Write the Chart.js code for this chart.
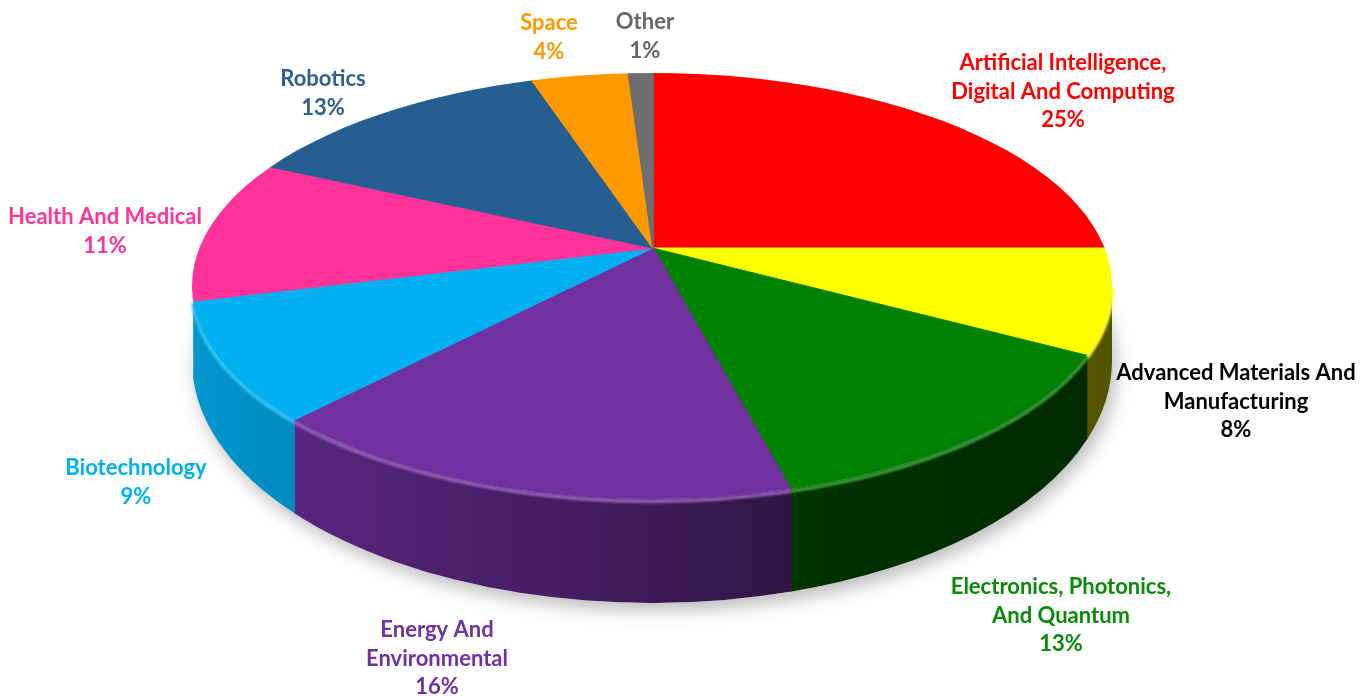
<!DOCTYPE html>
<html>
<head>
<meta charset="utf-8">
<script src="https://cdn.jsdelivr.net/npm/chart.js@4.4.1/dist/chart.umd.min.js"></script>
<style>
  html, body { margin: 0; padding: 0; background: #ffffff; }
  #wrap { width: 1371px; height: 696px; }
</style>
</head>
<body>
<div id="wrap"><canvas id="c" width="1371" height="696"></canvas></div>
<script>
// Category names (one entry per line of the label), shares in percent and colours
const categories = [
  ["Artificial Intelligence,", "Digital And Computing"],
  ["Advanced Materials And", "Manufacturing"],
  ["Electronics, Photonics,", "And Quantum"],
  ["Energy And", "Environmental"],
  ["Biotechnology"],
  ["Health And Medical"],
  ["Robotics"],
  ["Space"],
  ["Other"]
];
const shares = [25, 8, 13, 16, 9, 11, 13, 4, 1];
const sliceColors = ["#FF0000", "#FFFF00", "#008000", "#7030A0", "#00B0F0", "#FF3399", "#255E91", "#FF9900", "#6E6E6E"];
const labelColors = ["#FF0000", "#000000", "#0A8A0A", "#7030A0", "#00B0F0", "#FF3399", "#2F5F8F", "#FF9900", "#666666"];

// Label placement (centre x, first-line y) on the canvas
const labelAnchors = [[1063, 63], [1236, 373], [1061, 587], [437, 630], [136, 468], [105, 217], [323, 79], [549, 23], [645, 22]];
const labelFont = "bold 22px Lato";
const labelLineHeight = 28.5;

// Tilted disc geometry: apex of the slices, top rim ellipse, bottom rim ellipse
const disc = { px: 653, py: 248, cx: 652, cy: 286, rx: 460, ry: 213, cyB: 361, ryB: 242, tilt: 0.45, reach: 620 };

function toRgb(hex) {
  const n = parseInt(hex.slice(1), 16);
  return [(n >> 16) & 255, (n >> 8) & 255, n & 255];
}
function shade(hex, f) {
  const [r, g, b] = toRgb(hex);
  return `rgb(${Math.round(r * f)},${Math.round(g * f)},${Math.round(b * f)})`;
}
function lighten(hex, f) {
  const [r, g, b] = toRgb(hex);
  return `rgb(${Math.round(r + (255 - r) * f)},${Math.round(g + (255 - g) * f)},${Math.round(b + (255 - b) * f)})`;
}

// Where a slice edge (pie angle) meets the top rim, as an ellipse parameter
function rimAngle(theta) {
  const dx = Math.cos(theta), dy = disc.tilt * Math.sin(theta);
  const ox = (disc.px - disc.cx) / disc.rx, oy = (disc.py - disc.cy) / disc.ry;
  const ux = dx / disc.rx, uy = dy / disc.ry;
  const a = ux * ux + uy * uy, b = 2 * (ox * ux + oy * uy), c = ox * ox + oy * oy - 1;
  const t = (-b + Math.sqrt(b * b - 4 * a * c)) / (2 * a);
  return Math.atan2(oy + t * uy, ox + t * ux);
}

const wallStops = [[0, 0.86], [0.12, 0.78], [0.45, 0.58], [0.62, 0.45], [0.7, 0.38], [1, 0.33]];

function drawWall(ctx, s, e, color) {
  const d = disc;
  ctx.beginPath();
  ctx.ellipse(d.cx, d.cy, d.rx, d.ry, 0, s, e, false);
  ctx.lineTo(d.cx + d.rx * Math.cos(e), d.cyB + d.ryB * Math.sin(e));
  ctx.ellipse(d.cx, d.cyB, d.rx, d.ryB, 0, e, s, true);
  ctx.closePath();
  const g = ctx.createLinearGradient(d.cx - d.rx, 0, d.cx + d.rx, 0);
  wallStops.forEach(([p, f]) => g.addColorStop(p, shade(color, f)));
  ctx.fillStyle = g;
  ctx.fill();
}

function drawRim(ctx, s, e, color) {
  const d = disc;
  ctx.save();
  ctx.filter = "blur(1px)";
  ctx.beginPath();
  ctx.ellipse(d.cx, d.cy + 2, d.rx, d.ry, 0, s, e, false);
  ctx.strokeStyle = lighten(color, 0.22);
  ctx.lineWidth = 4;
  ctx.stroke();
  ctx.restore();
}

// visible (front) parts of a rim span, skipping hairline slivers
function frontParts(a0, a1) {
  const parts = [];
  for (const off of [-2 * Math.PI, 0, 2 * Math.PI]) {
    const s = Math.max(a0, off), e = Math.min(a1, off + Math.PI);
    if (e <= s) continue;
    const w = Math.abs(disc.rx * (Math.cos(s) - Math.cos(e)));
    if (w >= 2) parts.push([s, e]);
  }
  return parts;
}

const pie3d = {
  id: "pie3d",
  beforeDatasetsDraw(chart) {
    const ctx = chart.ctx, d = disc;
    const meta = chart.getDatasetMeta(0);

    // soft shadow under the disc
    ctx.save();
    ctx.beginPath();
    ctx.ellipse(d.cx, d.cyB, d.rx, d.ryB, 0, 0, Math.PI * 2);
    ctx.shadowColor = "rgba(0,0,0,0.28)";
    ctx.shadowBlur = 18;
    ctx.shadowOffsetX = 4;
    ctx.shadowOffsetY = 7;
    ctx.fillStyle = "#ffffff";
    ctx.fill();
    ctx.restore();

    // front side wall of every slice
    const spans = meta.data.map((arc, i) => {
      const a0 = rimAngle(arc.startAngle);
      let a1 = rimAngle(arc.endAngle);
      while (a1 < a0) a1 += Math.PI * 2;
      return [a0, a1, sliceColors[i]];
    });
    ctx.save();
    spans.forEach(([a0, a1, color]) => {
      frontParts(a0 - 0.002, a1).forEach(([s, e]) => drawWall(ctx, s, e, color));
    });
    spans.forEach(([a0, a1, color]) => {
      frontParts(a0, a1).forEach(([s, e]) => drawRim(ctx, s, e, color));
    });
    ctx.restore();

    // top face: the pie itself, squashed around the apex and trimmed to the rim
    const first = meta.data[0];
    const k = d.reach / first.outerRadius;
    ctx.save();
    ctx.beginPath();
    ctx.ellipse(d.cx, d.cy, d.rx, d.ry, 0, 0, Math.PI * 2);
    ctx.clip();
    ctx.translate(d.px, d.py);
    ctx.scale(k, k * d.tilt);
    ctx.translate(-first.x, -first.y);
  },
  afterDatasetsDraw(chart) {
    const ctx = chart.ctx;
    ctx.restore();

    ctx.save();
    ctx.font = labelFont;
    ctx.textAlign = "center";
    ctx.textBaseline = "middle";
    categories.forEach((lines, i) => {
      const [x, y] = labelAnchors[i];
      ctx.fillStyle = labelColors[i];
      const all = lines.concat([shares[i] + "%"]);
      all.forEach((t, j) => ctx.fillText(t, x, y + j * labelLineHeight));
    });
    ctx.restore();
  }
};

new Chart(document.getElementById("c"), {
  type: "pie",
  data: {
    labels: categories.map(l => l.join(" ")),
    datasets: [{
      data: shares,
      backgroundColor: sliceColors,
      borderColor: sliceColors,
      borderWidth: 1,
      clip: false
    }]
  },
  options: {
    responsive: false,
    animation: false,
    events: [],
    layout: { padding: 20 },
    plugins: {
      legend: { display: false },
      tooltip: { enabled: false }
    }
  },
  plugins: [pie3d]
});
</script>
</body>
</html>
